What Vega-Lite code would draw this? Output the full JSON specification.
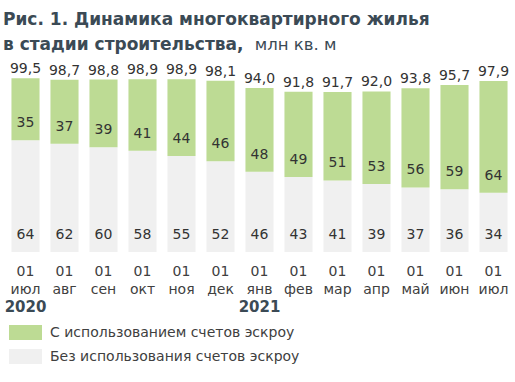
{
  "$schema": "https://vega.github.io/schema/vega-lite/v6.json",
  "autosize": "none",
  "width": 507,
  "height": 192,
  "padding": {"left": 6, "top": 60, "right": 2, "bottom": 130},
  "background": "white",
  "config": {
    "view": {"stroke": null},
    "font": "DejaVu Sans",
    "locale": {"number": {"decimal": ",", "thousands": " ", "grouping": [3], "currency": ["", ""]}}
  },
  "title": {
    "text": ["Рис. 1. Динамика многоквартирного жилья", "в стадии строительства,"],
    "subtitle": "\u200b\u00a0\u00a0\u00a0\u00a0\u00a0\u00a0\u00a0\u00a0\u00a0\u00a0\u00a0\u00a0\u00a0\u00a0\u00a0\u00a0\u00a0\u00a0\u00a0\u00a0\u00a0\u00a0\u00a0\u00a0\u00a0\u00a0\u00a0\u00a0\u00a0\u00a0\u00a0\u00a0\u00a0\u00a0\u00a0\u00a0\u00a0\u00a0\u00a0\u00a0\u00a0\u00a0\u00a0\u00a0\u00a0\u00a0\u00a0\u00a0млн кв. м",
    "anchor": "start",
    "frame": "group",
    "font": "DejaVu Sans",
    "fontSize": 17,
    "fontWeight": "bold",
    "lineHeight": 25,
    "color": "#3b4a55",
    "subtitleFont": "DejaVu Sans",
    "subtitleFontSize": 16.5,
    "subtitleColor": "#3b4a55",
    "subtitlePadding": -17,
    "dx": -3,
    "offset": 6
  },
  "data": {
    "values": [
      {"m": "2020-07", "bez": 64, "s": 35, "total": 99.5},
      {"m": "2020-08", "bez": 62, "s": 37, "total": 98.7},
      {"m": "2020-09", "bez": 60, "s": 39, "total": 98.8},
      {"m": "2020-10", "bez": 58, "s": 41, "total": 98.9},
      {"m": "2020-11", "bez": 55, "s": 44, "total": 98.9},
      {"m": "2020-12", "bez": 52, "s": 46, "total": 98.1},
      {"m": "2021-01", "bez": 46, "s": 48, "total": 94.0},
      {"m": "2021-02", "bez": 43, "s": 49, "total": 91.8},
      {"m": "2021-03", "bez": 41, "s": 51, "total": 91.7},
      {"m": "2021-04", "bez": 39, "s": 53, "total": 92.0},
      {"m": "2021-05", "bez": 37, "s": 56, "total": 93.8},
      {"m": "2021-06", "bez": 36, "s": 59, "total": 95.7},
      {"m": "2021-07", "bez": 34, "s": 64, "total": 97.9}
    ]
  },
  "resolve": {"axis": {"x": "independent"}},
  "layer": [
    {
      "mark": {"type": "bar"},
      "encoding": {
        "x": {
          "field": "m", "type": "ordinal", "sort": null,
          "scale": {"paddingInner": 0.28, "paddingOuter": 0.14},
          "axis": {
            "orient": "bottom", "title": null, "domain": false, "ticks": false,
            "labelAngle": 0, "labelFontSize": 14, "labelColor": "#404040",
            "labelPadding": 12, "labelLineHeight": 18, "labelFont": "DejaVu Sans",
            "labelExpr": "['01', ['янв','фев','мар','апр','май','июн','июл','авг','сен','окт','ноя','дек'][toNumber(slice(datum.value,5,7))-1]]"
          }
        },
        "y": {"field": "bez", "type": "quantitative", "scale": {"domain": [0, 110]}, "axis": null},
        "color": {
          "datum": "Без использования счетов эскроу",
          "type": "nominal",
          "scale": {
            "domain": ["С использованием счетов эскроу", "Без использования счетов эскроу"],
            "range": ["#bddb94", "#f0f0f0"]
          },
          "legend": {
            "title": null, "orient": "none", "legendX": 3, "legendY": 256,
            "direction": "vertical", "padding": 0,
            "symbolType": "M-1,-0.45H1V0.45H-1Z", "symbolSize": 1089,
            "symbolStrokeWidth": 0, "symbolOpacity": 1,
            "labelFontSize": 14, "labelColor": "#404040", "labelFont": "DejaVu Sans",
            "labelOffset": 8, "labelLimit": 400, "rowPadding": -6
          }
        }
      }
    },
    {
      "mark": {"type": "bar"},
      "encoding": {
        "x": {
          "field": "m", "type": "ordinal", "sort": null,
          "axis": {
            "orient": "bottom", "title": null, "domain": false, "ticks": false,
            "labelAngle": 0, "labelFontSize": 15, "labelFontWeight": "bold", "labelColor": "#3b4a55",
            "labelPadding": 47, "labelFont": "DejaVu Sans",
            "labelExpr": "datum.value == '2020-07' ? '2020' : (datum.value == '2021-01' ? '2021' : '')"
          }
        },
        "y": {"field": "bez", "type": "quantitative"},
        "y2": {"field": "total"},
        "color": {"datum": "С использованием счетов эскроу", "type": "nominal"}
      }
    },
    {
      "mark": {"type": "text", "fontSize": 14, "color": "#333333", "baseline": "middle", "dy": -17},
      "encoding": {
        "x": {"field": "m", "type": "ordinal", "sort": null, "axis": null},
        "y": {"datum": 0, "type": "quantitative"},
        "text": {"field": "bez", "type": "quantitative"}
      }
    },
    {
      "mark": {"type": "text", "fontSize": 14, "color": "#333333", "baseline": "middle", "dy": -17},
      "encoding": {
        "x": {"field": "m", "type": "ordinal", "sort": null, "axis": null},
        "y": {"field": "bez", "type": "quantitative"},
        "text": {"field": "s", "type": "quantitative"}
      }
    },
    {
      "mark": {"type": "text", "fontSize": 14, "color": "#333333", "baseline": "middle", "dy": -9},
      "encoding": {
        "x": {"field": "m", "type": "ordinal", "sort": null, "axis": null},
        "y": {"field": "total", "type": "quantitative"},
        "text": {"field": "total", "type": "quantitative", "format": ".1f"}
      }
    }
  ]
}
